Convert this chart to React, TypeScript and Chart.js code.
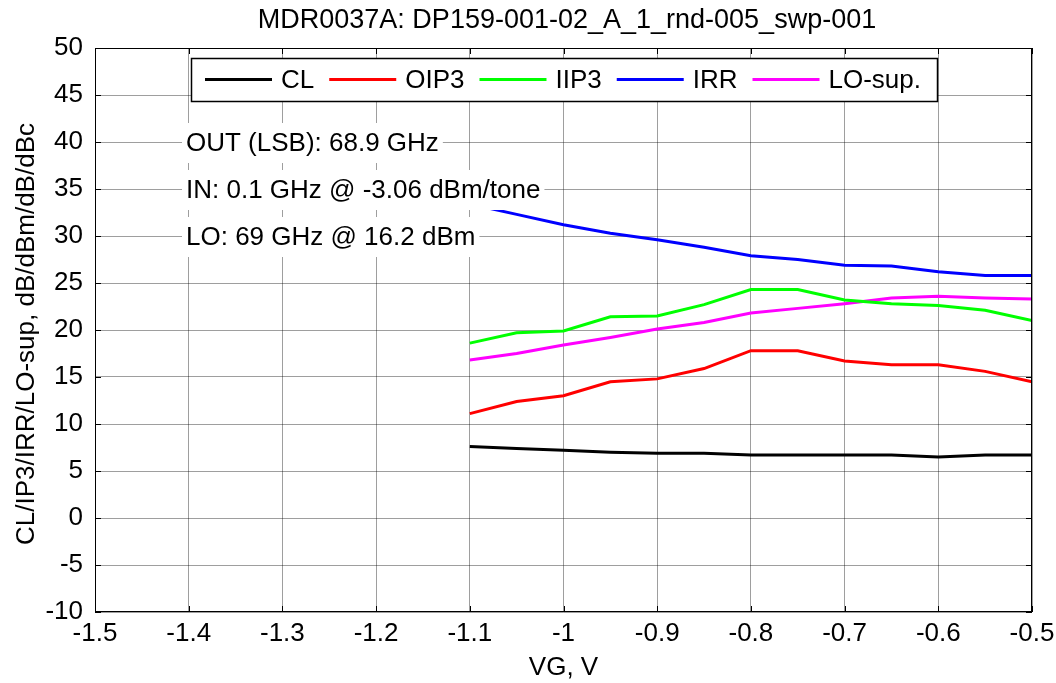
import React, { useEffect, useRef } from "react";
import { Chart, registerables } from "chart.js";

Chart.register(...registerables);

const vg = [-1.1, -1.05, -1.0, -0.95, -0.9, -0.85, -0.8, -0.75, -0.7, -0.65, -0.6, -0.55, -0.5];
const clValues = [7.6, 7.4, 7.2, 7.0, 6.9, 6.9, 6.7, 6.7, 6.7, 6.7, 6.5, 6.7, 6.7];
const oip3Values = [11.1, 12.4, 13.0, 14.5, 14.8, 15.9, 17.8, 17.8, 16.7, 16.3, 16.3, 15.6, 14.5];
const iip3Values = [18.6, 19.7, 19.9, 21.4, 21.5, 22.7, 24.3, 24.3, 23.2, 22.8, 22.6, 22.1, 21.0];
const irrValues = [33.4, 32.3, 31.2, 30.3, 29.6, 28.8, 27.9, 27.5, 26.9, 26.8, 26.2, 25.8, 25.8];
const loSupValues = [16.8, 17.5, 18.4, 19.2, 20.1, 20.8, 21.8, 22.3, 22.8, 23.4, 23.6, 23.4, 23.3];

const seriesNames = ["CL", "OIP3", "IIP3", "IRR", "LO-sup."];
const seriesColors = ["#000000", "#ff0000", "#00ff00", "#0000ff", "#ff00ff"];
const seriesValues = [clValues, oip3Values, iip3Values, irrValues, loSupValues];

const xTicks = [-1.5, -1.4, -1.3, -1.2, -1.1, -1.0, -0.9, -0.8, -0.7, -0.6, -0.5];
const xTickLabels = ["-1.5", "-1.4", "-1.3", "-1.2", "-1.1", "-1", "-0.9", "-0.8", "-0.7", "-0.6", "-0.5"];
const yTicks = [-10, -5, 0, 5, 10, 15, 20, 25, 30, 35, 40, 45, 50];

const titleText = "MDR0037A: DP159-001-02_A_1_rnd-005_swp-001";
const xTitle = "VG, V";
const yTitle = "CL/IP3/IRR/LO-sup, dB/dBm/dB/dBc";
const annotations = ["OUT (LSB): 68.9 GHz", "IN: 0.1 GHz @ -3.06 dBm/tone", "LO: 69 GHz @ 16.2 dBm"];

const FONT = "'Liberation Sans', Arial, Helvetica, sans-serif";

const overlayPlugin = {
  id: "overlay",
  afterDatasetsDraw(chart: any) {
    const { ctx, chartArea: a, scales } = chart;
    ctx.save();
    // axes box
    ctx.strokeStyle = "#000";
    ctx.lineWidth = 1;
    ctx.strokeRect(Math.round(a.left) + 0.5, Math.round(a.top) + 0.5, Math.round(a.right - a.left) - 1, Math.round(a.bottom - a.top) - 1);
    // inward ticks
    const tl = 6;
    ctx.beginPath();
    for (const v of xTicks) {
      const x = Math.round(scales.x.getPixelForValue(v)) + 0.5;
      ctx.moveTo(x, a.bottom);
      ctx.lineTo(x, a.bottom - tl);
      ctx.moveTo(x, a.top);
      ctx.lineTo(x, a.top + tl);
    }
    for (const v of yTicks) {
      const y = Math.round(scales.y.getPixelForValue(v)) + 0.5;
      ctx.moveTo(a.left, y);
      ctx.lineTo(a.left + tl, y);
      ctx.moveTo(a.right, y);
      ctx.lineTo(a.right - tl, y);
    }
    ctx.stroke();

    ctx.font = `26px ${FONT}`;
    ctx.textBaseline = "middle";
    ctx.textAlign = "left";

    // annotations with white background
    const annCenters = [143, 190, 237];
    annotations.forEach((t, i) => {
      const w = ctx.measureText(t).width;
      ctx.fillStyle = "#fff";
      ctx.fillRect(182, annCenters[i] - 20, w + 8, 40);
      ctx.fillStyle = "#000";
      ctx.fillText(t, 186, annCenters[i] + 1);
    });

    // legend
    const lx = 191, ly = 58, lw = 746, lh = 43;
    ctx.fillStyle = "#fff";
    ctx.fillRect(lx, ly, lw, lh);
    ctx.strokeStyle = "#000";
    ctx.lineWidth = 1.5;
    ctx.strokeRect(lx + 0.5, ly + 0.5, lw, lh);
    let cx = 205;
    const cy = ly + lh / 2;
    seriesNames.forEach((n, i) => {
      ctx.strokeStyle = seriesColors[i];
      ctx.lineWidth = 3;
      ctx.beginPath();
      ctx.moveTo(cx, cy);
      ctx.lineTo(cx + 67, cy);
      ctx.stroke();
      cx += 67 + 9;
      ctx.fillStyle = "#000";
      ctx.fillText(n, cx, cy + 1);
      cx += ctx.measureText(n).width + 15;
    });
    ctx.restore();
  },
  afterDraw(chart: any) {
    const { ctx, chartArea: a } = chart;
    ctx.save();
    ctx.fillStyle = "#000";
    ctx.textAlign = "center";
    ctx.textBaseline = "middle";
    ctx.font = `27px ${FONT}`;
    ctx.fillText(titleText, 567, 21);
    ctx.font = `26px ${FONT}`;
    ctx.fillText(xTitle, (a.left + a.right) / 2, 668);
    ctx.translate(27, (a.top + a.bottom) / 2 + 4);
    ctx.rotate(-Math.PI / 2);
    ctx.fillText(yTitle, 0, 0);
    ctx.restore();
  },
};

export default function App() {
  const ref = useRef<HTMLCanvasElement | null>(null);
  useEffect(() => {
    if (!ref.current) return;
    const chart = new Chart(ref.current, {
      type: "line",
      data: {
        datasets: seriesNames.map((n, i) => ({
          label: n,
          data: vg.map((x, j) => ({ x, y: seriesValues[i][j] })),
          borderColor: seriesColors[i],
          backgroundColor: seriesColors[i],
          borderWidth: 3,
          pointRadius: 0,
          tension: 0,
          fill: false,
        })),
      },
      options: {
        animation: false,
        responsive: false,
        devicePixelRatio: 1,
        layout: { padding: { left: 0, right: 24, top: 48, bottom: 0 } },
        plugins: { legend: { display: false }, title: { display: false }, tooltip: { enabled: false } },
        scales: {
          x: {
            type: "linear",
            min: -1.5,
            max: -0.5,
            afterFit: (s: any) => { s.height = 71; s.paddingLeft = 0; s.paddingRight = 0; },
            afterBuildTicks: (s: any) => { s.ticks = xTicks.map((v) => ({ value: v })); },
            ticks: {
              color: "#000",
              font: { size: 26, family: FONT },
              padding: 6,
              maxRotation: 0,
              autoSkip: false,
              callback: (v: any) => xTickLabels[xTicks.findIndex((t) => Math.abs(t - v) < 1e-6)] ?? "",
            },
            grid: { color: "rgba(0,0,0,0.38)", lineWidth: 1, drawTicks: false },
            border: { display: false },
          },
          y: {
            type: "linear",
            min: -10,
            max: 50,
            afterFit: (s: any) => { s.width = 95; s.paddingTop = 0; s.paddingBottom = 0; },
            afterBuildTicks: (s: any) => { s.ticks = yTicks.map((v) => ({ value: v })); },
            ticks: {
              color: "#000",
              font: { size: 26, family: FONT },
              padding: 12,
              autoSkip: false,
              callback: (v: any) => String(v),
            },
            grid: { color: "rgba(0,0,0,0.38)", lineWidth: 1, drawTicks: false },
            border: { display: false },
          },
        },
      },
      plugins: [overlayPlugin],
    } as any);
    return () => chart.destroy();
  }, []);
  return (
    <div style={{ position: "fixed", left: 0, top: 0, width: 1056, height: 683, background: "#fff" }}>
      <canvas ref={ref} width={1056} height={683} style={{ display: "block" }} />
    </div>
  );
}
